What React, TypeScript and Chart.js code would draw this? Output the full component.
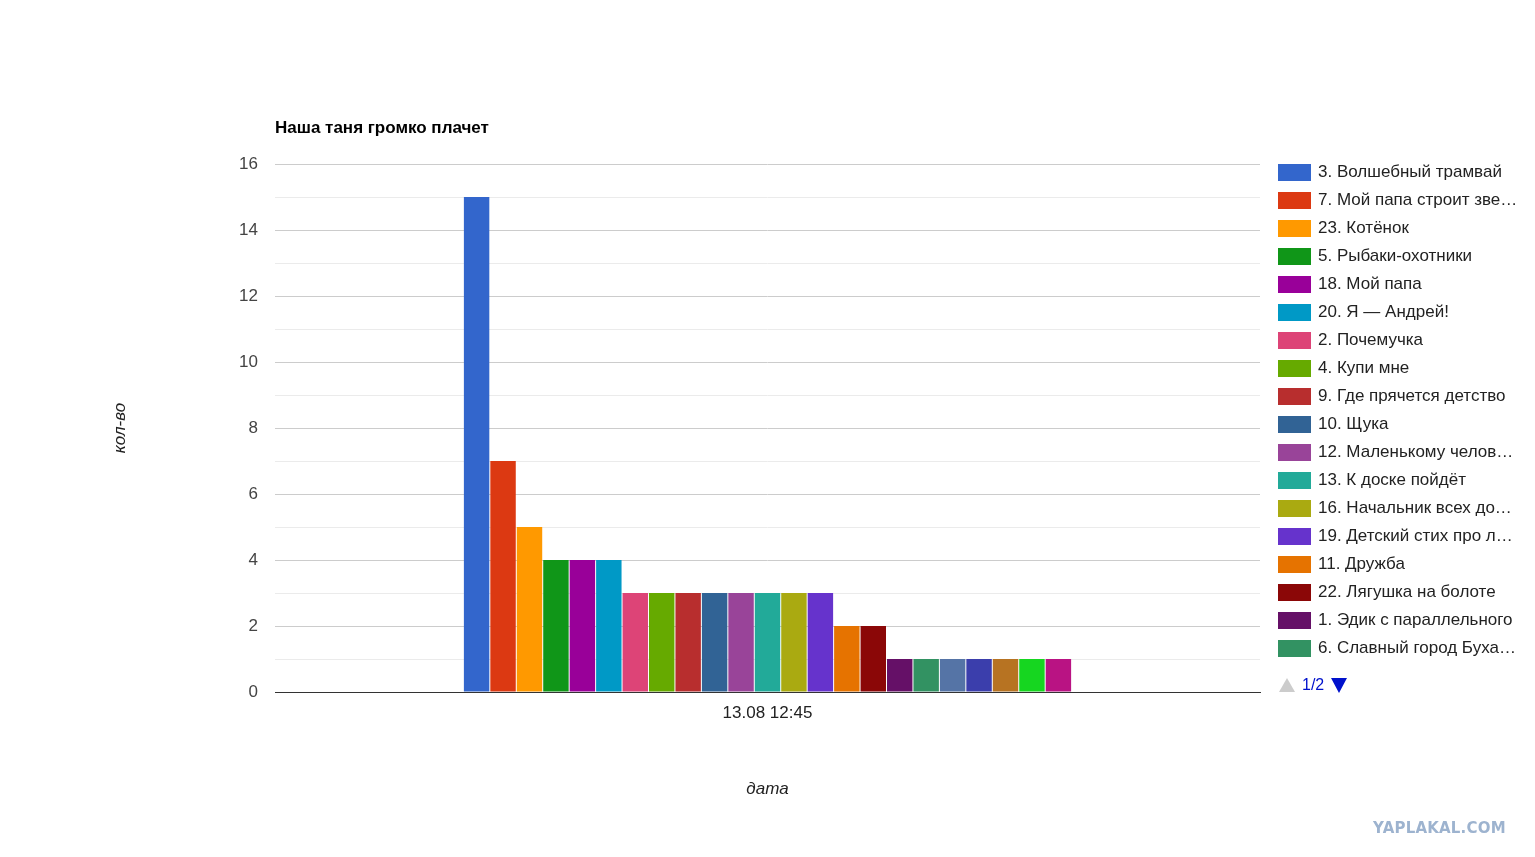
import React, { useEffect, useRef } from "react";
import { Chart, registerables } from "chart.js";

Chart.register(...registerables);

const FONT = "Arial, 'Liberation Sans', sans-serif";

const categories = ["13.08 12:45"];
const chartTitle = "Наша таня громко плачет";
const xAxisTitle = "дата";
const yAxisTitle = "кол-во";
const yTickLabels = [0, 2, 4, 6, 8, 10, 12, 14, 16];
const legendPageLabel = "1/2";
const legendPageSize = 18;
const watermark = "YAPLAKAL.COM";

const seriesNames = [
  "3. Волшебный трамвай",
  "7. Мой папа строит зве…",
  "23. Котёнок",
  "5. Рыбаки-охотники",
  "18. Мой папа",
  "20. Я — Андрей!",
  "2. Почемучка",
  "4. Купи мне",
  "9. Где прячется детство",
  "10. Щука",
  "12. Маленькому челов…",
  "13. К доске пойдёт",
  "16. Начальник всех до…",
  "19. Детский стих про л…",
  "11. Дружба",
  "22. Лягушка на болоте",
  "1. Эдик с параллельного",
  "6. Славный город Буха…",
  "8.",
  "14.",
  "15.",
  "17.",
  "21.",
];

const seriesValues = [15, 7, 5, 4, 4, 4, 3, 3, 3, 3, 3, 3, 3, 3, 2, 2, 1, 1, 1, 1, 1, 1, 1];

const seriesColors = [
  "#3366cc", "#dc3912", "#ff9900", "#109618", "#990099", "#0099c6",
  "#dd4477", "#66aa00", "#b82e2e", "#316395", "#994499", "#22aa99",
  "#aaaa11", "#6633cc", "#e67300", "#8b0707", "#651067", "#329262",
  "#5574a6", "#3b3eac", "#b77322", "#16d620", "#b91383",
];

const titlePlugin = {
  id: "leftTitle",
  afterDraw(chart: any) {
    const { ctx, chartArea } = chart;
    ctx.save();
    ctx.font = `bold 17px ${FONT}`;
    ctx.fillStyle = "#000000";
    ctx.textAlign = "left";
    ctx.textBaseline = "middle";
    ctx.fillText(chartTitle, chartArea.left, chartArea.top - 36);
    ctx.restore();
  },
};

export default function App() {
  const canvasRef = useRef<HTMLCanvasElement | null>(null);

  useEffect(() => {
    if (!canvasRef.current) return;
    const chart = new Chart(canvasRef.current, {
      type: "bar",
      data: {
        labels: categories,
        datasets: seriesNames.map((name, i) => ({
          label: name,
          data: [seriesValues[i]],
          backgroundColor: seriesColors[i],
          borderWidth: 0,
          categoryPercentage: 0.6175,
          barPercentage: 0.962,
        })),
      },
      options: {
        animation: false,
        responsive: false,
        maintainAspectRatio: false,
        layout: { padding: { left: 110, right: 275, top: 164, bottom: 58 } },
        plugins: {
          legend: { display: false },
          tooltip: { enabled: false },
          title: { display: false },
        },
        scales: {
          x: {
            grid: { display: false },
            border: { display: true, color: "#333333", width: 1 },
            ticks: { color: "#222222", font: { size: 17, family: FONT }, padding: 3 },
            title: {
              display: true,
              text: xAxisTitle,
              color: "#222222",
              font: { size: 17, style: "italic", family: FONT },
              padding: 0,
            },
            afterFit: (s: any) => {
              s.height = 107;
            },
          },
          y: {
            min: 0,
            max: 16,
            ticks: {
              stepSize: 1,
              padding: 17,
              color: "#444444",
              font: { size: 17, family: FONT },
              autoSkip: false,
              callback: (v: any) => (yTickLabels.includes(Number(v)) ? String(v) : ""),
            },
            grid: {
              drawTicks: false,
              color: (ctx: any) =>
                ctx.tick.value === 0 ? "#333333" : ctx.tick.value % 2 === 0 ? "#cccccc" : "#ebebeb",
            },
            border: { display: false },
            title: {
              display: true,
              text: yAxisTitle,
              color: "#222222",
              font: { size: 17, style: "italic", family: FONT },
              padding: 0,
            },
            afterFit: (s: any) => {
              s.width = 165;
            },
          },
        },
      },
      plugins: [titlePlugin],
    } as any);
    return () => chart.destroy();
  }, []);

  const legendItems = seriesNames.slice(0, legendPageSize);

  return (
    <div
      style={{
        position: "fixed",
        left: 0,
        top: 0,
        width: 1535,
        height: 857,
        background: "#ffffff",
        fontFamily: FONT,
      }}
    >
      <canvas ref={canvasRef} width={1535} height={857} style={{ position: "absolute", left: 0, top: 0 }} />
      {legendItems.map((name, i) => (
        <div key={name} style={{ position: "absolute", left: 1278, top: 164 + i * 28, height: 17, width: 250 }}>
          <div
            style={{
              position: "absolute",
              left: 0,
              top: 0,
              width: 33,
              height: 17,
              background: seriesColors[i],
            }}
          />
          <div
            style={{
              position: "absolute",
              left: 40,
              top: -2,
              fontSize: 17,
              lineHeight: "20px",
              color: "#222222",
              whiteSpace: "nowrap",
            }}
          >
            {name}
          </div>
        </div>
      ))}
      <div
        style={{
          position: "absolute",
          left: 1279,
          top: 678,
          width: 0,
          height: 0,
          borderLeft: "8px solid transparent",
          borderRight: "8px solid transparent",
          borderBottom: "14px solid #cccccc",
        }}
      />
      <div
        style={{
          position: "absolute",
          left: 1302,
          top: 675,
          fontSize: 16,
          lineHeight: "20px",
          color: "#0011cc",
        }}
      >
        {legendPageLabel}
      </div>
      <div
        style={{
          position: "absolute",
          left: 1331,
          top: 678,
          width: 0,
          height: 0,
          borderLeft: "8.5px solid transparent",
          borderRight: "8.5px solid transparent",
          borderTop: "15px solid #0011cc",
        }}
      />
      <div
        style={{
          position: "absolute",
          left: 1373,
          top: 818,
          fontSize: 15,
          fontWeight: 900,
          lineHeight: "20px",
          color: "#9db3cf",
          letterSpacing: 0.2,
          fontFamily: "'DejaVu Sans', sans-serif",
        }}
      >
        {watermark}
      </div>
    </div>
  );
}
